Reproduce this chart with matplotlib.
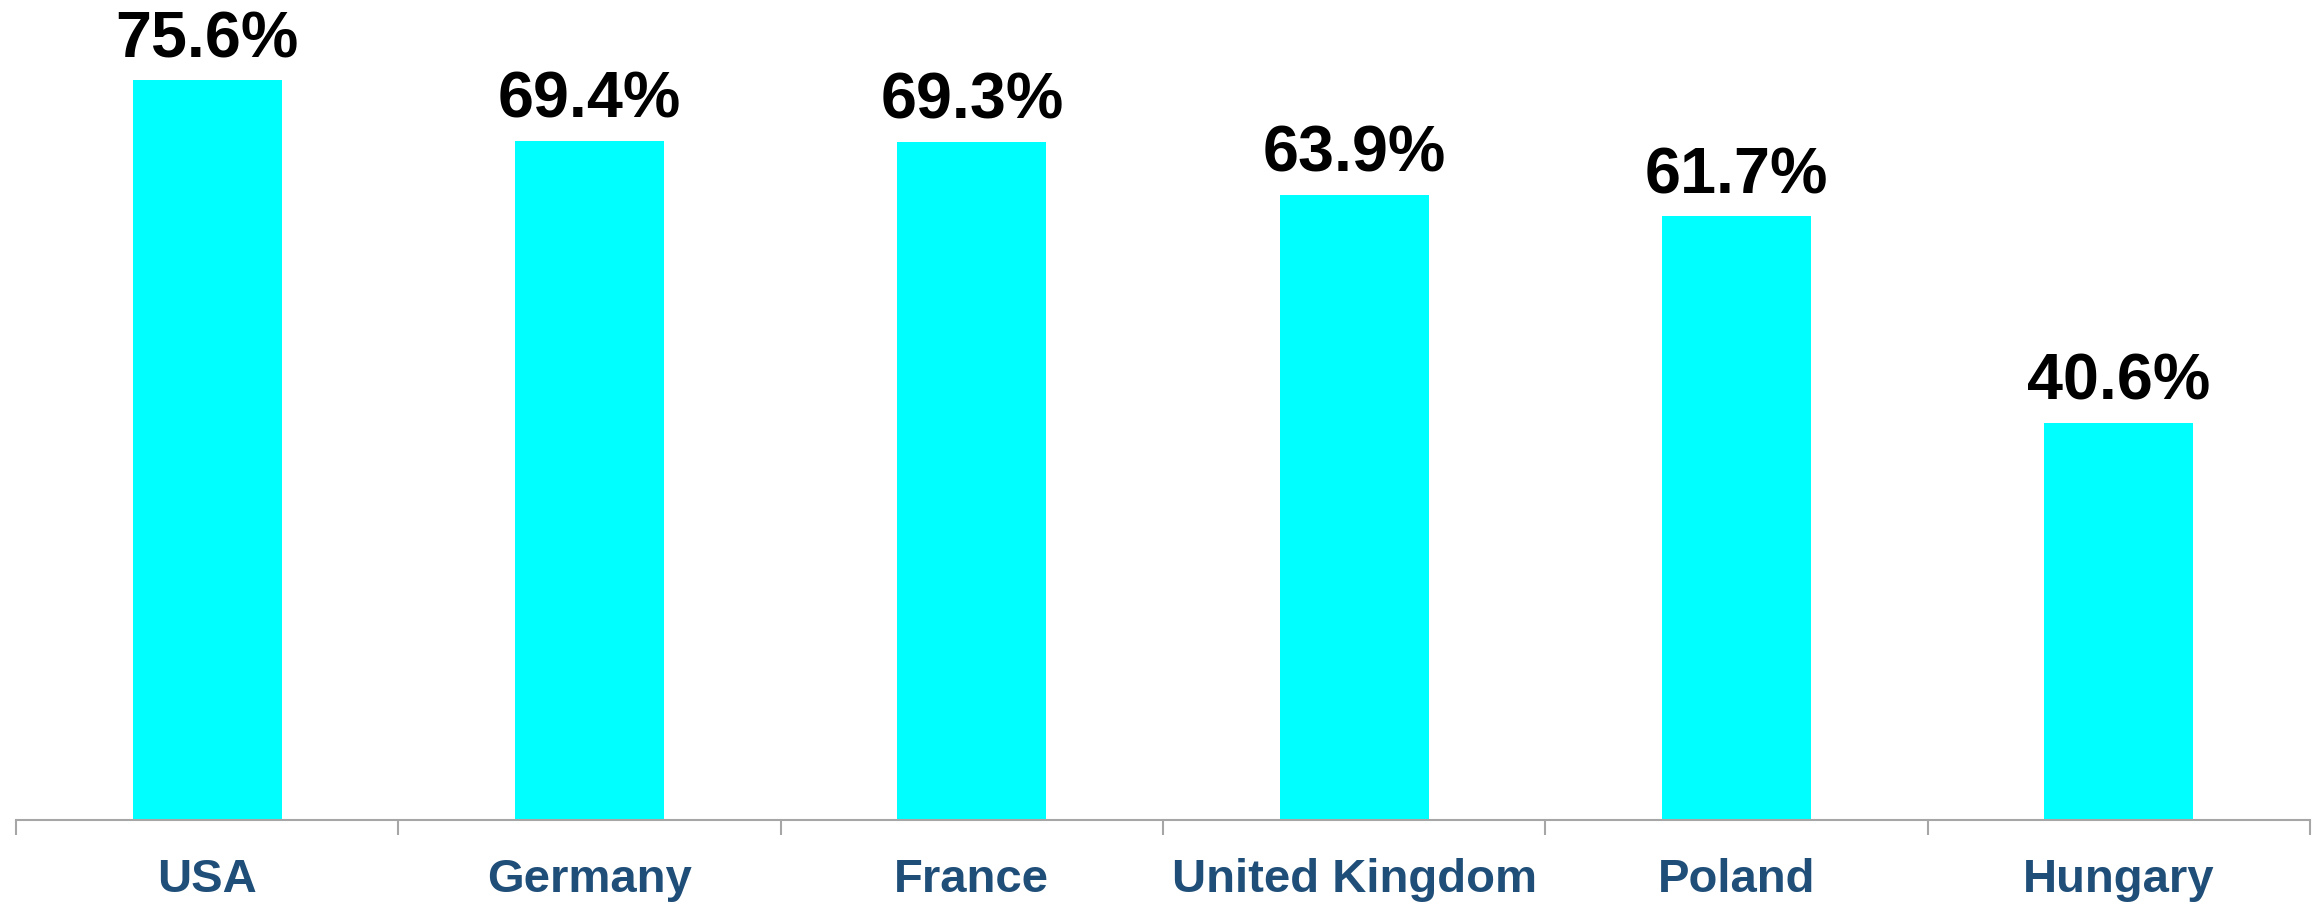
import matplotlib.pyplot as plt
import numpy as np

# Dados
paises = ["USA", "Germany", "France", "United Kingdom", "Poland", "Hungary"]
valores = [75.6, 69.4, 69.3, 63.9, 61.7, 40.6]
rotulos = ["75.6%", "69.4%", "69.3%", "63.9%", "61.7%", "40.6%"]

plt.rcParams['font.family'] = ['Liberation Sans', 'DejaVu Sans']

W, H = 2320, 903
fig = plt.figure(figsize=(W / 100, H / 100), dpi=100)
ax = fig.add_axes([16 / W, (H - 821) / H, (2310 - 16) / W, 821 / H])

x = np.arange(len(paises))
barras = ax.bar(x, valores, width=0.39, color='#00ffff')

for b, r in zip(barras, rotulos):
    ax.annotate(r, (b.get_x() + b.get_width() / 2, b.get_height()),
                xytext=(0, 8), textcoords='offset points',
                ha='center', va='bottom', fontsize=46.5, fontweight='bold',
                color='black', annotation_clip=False)

ax.set_xlim(-0.5, len(paises) - 0.5)
ax.set_ylim(0, 83.9)

# rótulos no centro, marcas entre as categorias
ax.set_xticks(x)
ax.set_xticklabels(paises, fontsize=34, fontweight='bold', color='#1f4e79')
ax.tick_params(axis='x', which='major', length=0, pad=27)
ax.set_xticks(np.arange(-0.5, len(paises)), minor=True)
ax.tick_params(axis='x', which='minor', length=11, width=1.5, color='#a6a6a6')

ax.set_yticks([])
for lado in ['top', 'right', 'left']:
    ax.spines[lado].set_visible(False)
ax.spines['bottom'].set_color('#a6a6a6')
ax.spines['bottom'].set_linewidth(1.5)

fig.savefig('out.png', dpi=100)
